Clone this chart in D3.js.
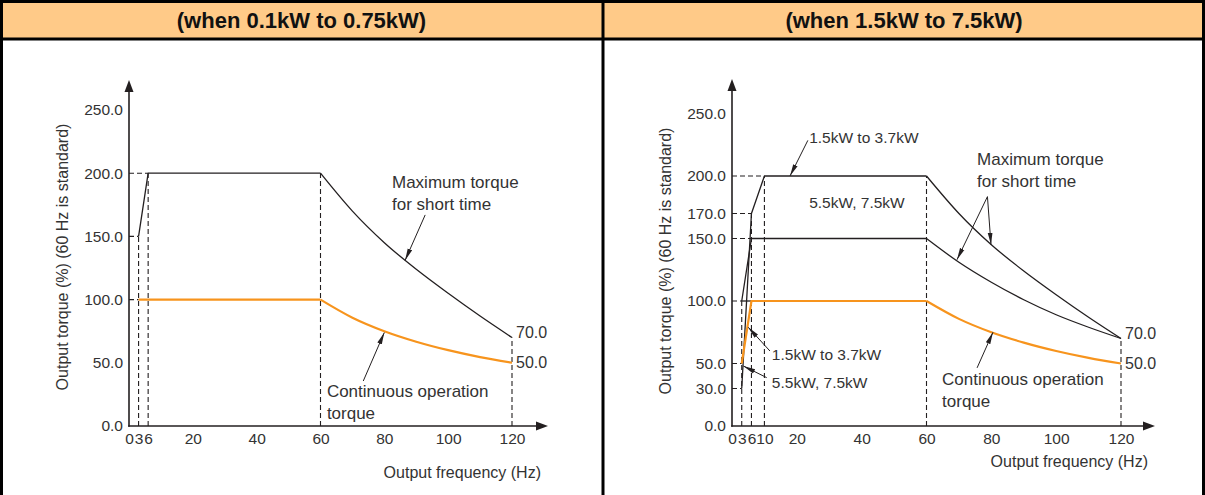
<!DOCTYPE html>
<html>
<head>
<meta charset="utf-8">
<script src="https://d3js.org/d3.v7.min.js"></script>
<style>
body { margin: 0; background: #fff; }
svg { display: block; font-family: "Liberation Sans", Arial, sans-serif; }
</style>
</head>
<body>
<div id="mainDiv"></div>
<script>
'use strict';

// titles of the two panels
var panelTitles = ['(when 0.1kW to 0.75kW)', '(when 1.5kW to 7.5kW)'];
var xTitle = 'Output frequency (Hz)';
var yTitle = 'Output torque (%) (60 Hz is standard)';

// left panel, 0.1kW to 0.75kW  -> [frequency Hz, torque %]
var leftMaxLow   = [[3, 150], [6, 200], [60, 200]];
var leftMaxHigh  = [[60, 200], [70, 170], [80, 145], [90, 124], [100, 105], [110, 87], [120, 70]];
var leftContLow  = [[3, 100], [60, 100]];
var leftContHigh = [[60, 100], [70, 85.7], [80, 75], [90, 66.7], [100, 60], [110, 54.5], [120, 50]];
var leftXTicks = [0, 3, 6, 20, 40, 60, 80, 100, 120];
var leftYTicks = [0, 50, 100, 150, 200, 250];
var leftVGuides = [[3, 150], [6, 200], [60, 200], [120, 70]];   // [freq, up to torque]
var leftHGuides = [[200, 6], [150, 3], [100, 3]];               // [torque, up to freq]

// right panel, 1.5kW to 7.5kW
var rightMaxALow   = [[3, 30], [6, 170], [10, 200], [60, 200]];  // 1.5kW to 3.7kW
var rightMaxAHigh  = [[60, 200], [70, 170], [80, 145], [90, 124], [100, 105], [110, 87], [120, 70]];
var rightMaxBLow   = [[3, 100], [6, 150], [60, 150]];            // 5.5kW, 7.5kW
var rightMaxBHigh  = [[60, 150], [70, 131], [80, 115], [90, 101], [100, 89], [110, 79], [120, 70]];
var rightStartSeg  = [[3, 100], [6, 100]];
var rightContLow   = [[3, 50], [6, 100], [60, 100]];
var rightContHigh  = [[60, 100], [70, 85.7], [80, 75], [90, 66.7], [100, 60], [110, 54.5], [120, 50]];
var rightXTicks = [0, 3, 6, 10, 20, 40, 60, 80, 100, 120];
var rightYTicks = [0, 30, 50, 100, 150, 170, 200, 250];
var rightVGuides = [[3, 100], [6, 170], [10, 200], [60, 200], [120, 70]];
var rightHGuides = [[200, 10], [170, 6], [150, 6], [100, 3], [50, 3], [30, 3]];

// end values written at 120 Hz
var endLabels = [70, 50];

// annotations: text lines at [freq, torque] and arrows [from, to]
var leftNotes = [
  {at: [82.4, 188.3], lines: ['Maximum torque', 'for short time'], size: 17},
  {at: [62, 23], lines: ['Continuous operation', 'torque'], size: 17}
];
var leftArrows = [
  [[92.8, 167], [86.5, 131]],
  [[73.4, 35.6], [80, 74]]
];
var rightNotes = [
  {at: [23.8, 226.5], lines: ['1.5kW to 3.7kW'], size: 15.5},
  {at: [23.8, 174.5], lines: ['5.5kW, 7.5kW'], size: 15.5},
  {at: [75.6, 209], lines: ['Maximum torque', 'for short time'], size: 17},
  {at: [64.8, 33], lines: ['Continuous operation', 'torque'], size: 17},
  {at: [12.3, 53], lines: ['1.5kW to 3.7kW'], size: 15.5},
  {at: [12.3, 30.5], lines: ['5.5kW, 7.5kW'], size: 15.5}
];
var rightArrows = [
  [[23.4, 228.5], [17.9, 200]],
  [[78.8, 183.5], [69.4, 133]],
  [[78.8, 183.5], [79.9, 145]],
  [[75.6, 46.5], [80.5, 75]],
  [[11.7, 60], [5.0, 79]],
  [[10.7, 38.7], [3.5, 48]]
];

var torqueChart = {};

torqueChart.w = 1205;
torqueChart.h = 495;
torqueChart.headerH = 39;
torqueChart.ink = '#231f20';
torqueChart.text = '#333';
torqueChart.orange = '#f7941d';
torqueChart.tickSize = 15.5;
torqueChart.titleSize = 16;
torqueChart.lineSpacing = 22;

// panel layouts (pixel placement only, data lives above)
torqueChart.panels = [
  {
    left: 0, right: 603, title: panelTitles[0],
    xRange: [129, 512], yRange: [426, 110],
    xTicks: leftXTicks, yTicks: leftYTicks,
    vGuides: leftVGuides, hGuides: leftHGuides,
    black: [leftMaxLow], blackCurves: [leftMaxHigh],
    orange: [leftContLow], orangeCurves: [leftContHigh],
    notes: leftNotes, arrows: leftArrows,
    yTitleX: 68, yTitleY: 257, xTitleY: 478, xTitleX: 541,
    axisTop: 80, axisEnd: 548
  },
  {
    left: 603, right: 1205, title: panelTitles[1],
    xRange: [732, 1121], yRange: [426, 113.5],
    xTicks: rightXTicks, yTicks: rightYTicks,
    vGuides: rightVGuides, hGuides: rightHGuides,
    black: [rightMaxALow, rightMaxBLow, rightStartSeg], blackCurves: [rightMaxAHigh, rightMaxBHigh],
    orange: [rightContLow], orangeCurves: [rightContHigh],
    notes: rightNotes, arrows: rightArrows,
    yTitleX: 671, yTitleY: 261, xTitleY: 467, xTitleX: 1148,
    axisTop: 79, axisEnd: 1155
  }
];

torqueChart.appendSvg = function(div)
{
  var svg = d3.select(div).append('svg')
    .attr('width', torqueChart.w)
    .attr('height', torqueChart.h);

  var defs = svg.append('defs');
  defs.append('marker')
    .attr('id', 'tip')
    .attr('viewBox', '0 0 12 6')
    .attr('refX', 12).attr('refY', 3)
    .attr('markerWidth', 12).attr('markerHeight', 6)
    .attr('markerUnits', 'userSpaceOnUse')
    .attr('orient', 'auto')
    .append('path')
    .attr('d', 'M0,0.6 L12,3 L0,5.4 Z')
    .attr('fill', torqueChart.ink);

  return svg;
}

torqueChart.drawFrame = function(svg)
{
  svg.append('rect')
    .attr('x', 0).attr('y', 0)
    .attr('width', torqueChart.w).attr('height', torqueChart.headerH)
    .attr('fill', '#ffca88');

  var frame = svg.append('g').attr('stroke', '#000').attr('stroke-width', 3);
  frame.append('line').attr('x1', 0).attr('x2', torqueChart.w).attr('y1', 1.5).attr('y2', 1.5);
  frame.append('line').attr('x1', 0).attr('x2', torqueChart.w).attr('y1', torqueChart.headerH).attr('y2', torqueChart.headerH);
  frame.append('line').attr('x1', 1.5).attr('x2', 1.5).attr('y1', 0).attr('y2', torqueChart.h);
  frame.append('line').attr('x1', 603).attr('x2', 603).attr('y1', 0).attr('y2', torqueChart.h);
  frame.append('line').attr('x1', torqueChart.w - 1.5).attr('x2', torqueChart.w - 1.5).attr('y1', 0).attr('y2', torqueChart.h);
}

torqueChart.drawPanel = function(svg, p)
{
  var g = svg.append('g');
  var x = d3.scaleLinear().domain([0, 120]).range(p.xRange);
  var y = d3.scaleLinear().domain([0, 250]).range(p.yRange);

  // header title
  g.append('text')
    .attr('x', (p.left + p.right) / 2)
    .attr('y', 28)
    .attr('text-anchor', 'middle')
    .attr('font-weight', 'bold')
    .attr('font-size', 22)
    .attr('fill', '#111')
    .text(p.title);

  // dashed guides
  var dash = g.append('g')
    .attr('stroke', torqueChart.ink)
    .attr('stroke-width', 1.1)
    .attr('stroke-dasharray', '5,3')
    .attr('fill', 'none');

  dash.selectAll('.vg').data(p.vGuides).enter().append('line')
    .attr('x1', function(d) { return x(d[0]); })
    .attr('x2', function(d) { return x(d[0]); })
    .attr('y1', y(0))
    .attr('y2', function(d) { return y(d[1]); });

  dash.selectAll('.hg').data(p.hGuides).enter().append('line')
    .attr('x1', x(0))
    .attr('x2', function(d) { return x(d[1]); })
    .attr('y1', function(d) { return y(d[0]); })
    .attr('y2', function(d) { return y(d[0]); });

  // lines
  var straight = d3.line()
    .x(function(d) { return x(d[0]); })
    .y(function(d) { return y(d[1]); });
  var smooth = d3.line()
    .x(function(d) { return x(d[0]); })
    .y(function(d) { return y(d[1]); })
    .curve(d3.curveMonotoneX);

  function addPaths(list, gen, color, width)
  {
    g.selectAll(null).data(list).enter().append('path')
      .attr('d', gen)
      .attr('fill', 'none')
      .attr('stroke', color)
      .attr('stroke-width', width)
      .attr('stroke-linejoin', 'round');
  }

  addPaths(p.black, straight, torqueChart.ink, 1.3);
  addPaths(p.blackCurves, smooth, torqueChart.ink, 1.3);
  addPaths(p.orange, straight, torqueChart.orange, 2.2);
  addPaths(p.orangeCurves, smooth, torqueChart.orange, 2.2);

  // axes with arrows
  var axisG = g.append('g').attr('stroke', torqueChart.ink).attr('stroke-width', 1.6);
  axisG.append('line')
    .attr('x1', x(0)).attr('x2', x(0))
    .attr('y1', y(0) + 0.8).attr('y2', p.axisTop + 8);
  axisG.append('line')
    .attr('x1', x(0) - 0.8).attr('x2', p.axisEnd - 8)
    .attr('y1', y(0)).attr('y2', y(0));
  g.append('path')
    .attr('d', 'M' + x(0) + ',' + p.axisTop + ' l-4.5,12 l9,0 Z')
    .attr('fill', torqueChart.ink);
  g.append('path')
    .attr('d', 'M' + p.axisEnd + ',' + y(0) + ' l-12,-4.5 l0,9 Z')
    .attr('fill', torqueChart.ink);

  // tick labels
  var yAxis = d3.axisLeft(y)
    .tickValues(p.yTicks)
    .tickFormat(d3.format('.1f'))
    .tickSize(0)
    .tickPadding(6);
  var xAxis = d3.axisBottom(x)
    .tickValues(p.xTicks)
    .tickFormat(d3.format('d'))
    .tickSize(0)
    .tickPadding(7);

  var ya = g.append('g').attr('transform', 'translate(' + x(0) + ',0)').call(yAxis);
  var xa = g.append('g').attr('transform', 'translate(0,' + y(0) + ')').call(xAxis);
  [ya, xa].forEach(function(a) {
    a.select('.domain').remove();
    a.attr('font-family', null);
    a.selectAll('text')
      .attr('font-size', torqueChart.tickSize)
      .attr('fill', torqueChart.text);
  });

  // values at 120 Hz
  g.selectAll('.endLbl').data(endLabels).enter().append('text')
    .attr('x', x(120) + 4)
    .attr('y', function(d) { return y(d); })
    .attr('dy', function(d, i) { return i === 0 ? '0.05em' : '0.35em'; })
    .attr('font-size', torqueChart.titleSize)
    .attr('fill', torqueChart.text)
    .text(function(d) { return d3.format('.1f')(d); });

  // axis titles
  g.append('text')
    .attr('x', p.xTitleX)
    .attr('y', p.xTitleY)
    .attr('text-anchor', 'end')
    .attr('font-size', torqueChart.titleSize)
    .attr('fill', torqueChart.text)
    .text(xTitle);

  g.append('text')
    .attr('transform', 'translate(' + p.yTitleX + ',' + p.yTitleY + ') rotate(-90)')
    .attr('text-anchor', 'middle')
    .attr('font-size', torqueChart.titleSize)
    .attr('fill', torqueChart.text)
    .text(yTitle);

  // notes
  var notes = g.selectAll('.note').data(p.notes).enter().append('text')
    .attr('font-size', function(d) { return d.size; })
    .attr('fill', torqueChart.text);
  notes.selectAll('tspan')
    .data(function(d) { return d.lines.map(function(l) { return {l: l, at: d.at}; }); })
    .enter().append('tspan')
    .attr('x', function(d) { return x(d.at[0]); })
    .attr('y', function(d, i) { return y(d.at[1]) + i * torqueChart.lineSpacing; })
    .text(function(d) { return d.l; });

  g.selectAll('.arrow').data(p.arrows).enter().append('line')
    .attr('x1', function(d) { return x(d[0][0]); })
    .attr('y1', function(d) { return y(d[0][1]); })
    .attr('x2', function(d) { return x(d[1][0]); })
    .attr('y2', function(d) { return y(d[1][1]); })
    .attr('stroke', torqueChart.ink)
    .attr('stroke-width', 1)
    .attr('marker-end', 'url(#tip)');
}

torqueChart.run = function()
{
  var svg = torqueChart.appendSvg('#mainDiv');
  torqueChart.drawFrame(svg);
  torqueChart.panels.forEach(function(p) { torqueChart.drawPanel(svg, p); });
}

window.onload = torqueChart.run;
</script>
</body>
</html>
